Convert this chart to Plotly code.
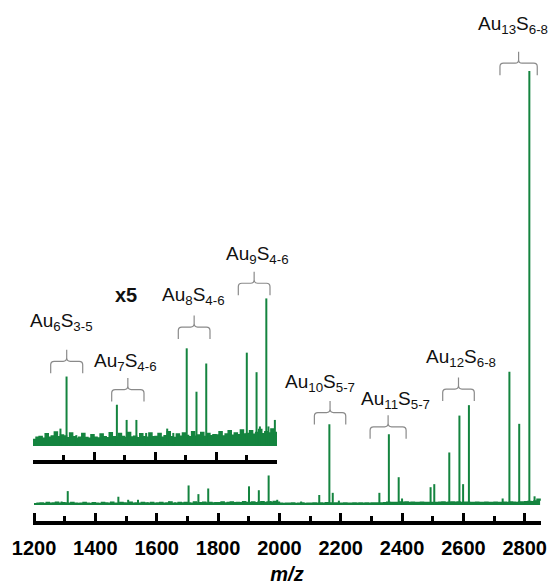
import plotly.graph_objects as go
import numpy as np

# ---------------- data ----------------
# stick peaks (m/z, intensity in % of the Au13S8 peak)
peak_mz = [1290, 1310, 1342, 1475, 1507, 1539, 1571, 1640, 1660, 1704, 1736, 1768,
           1901, 1933, 1944, 1965, 1972, 1993,
           2071, 2130, 2163, 2174, 2194, 2326, 2357, 2389, 2400,
           2493, 2505, 2554, 2587, 2599, 2618, 2728, 2750, 2782, 2815, 2832]
peak_int = [0.8, 3.2, 0.5, 1.9, 1.2, 1.2, 0.6, 0.8, 0.6, 4.5, 2.5, 3.8,
            4.3, 3.4, 0.9, 6.8, 0.9, 1.2,
            0.8, 2.3, 18.6, 2.8, 1.0, 2.8, 16.3, 6.4, 1.5,
            4.1, 4.8, 12.1, 20.6, 4.8, 23.0, 1.5, 30.7, 18.7, 100.0, 2.0]

# baseline noise sampled every 10 m/z from 1200 to 2850
noise_start = 1200
noise_step = 10
noise_int = [
    0.30, 0.40, 0.44, 0.36, 0.56, 0.40, 0.46, 0.64, 0.42, 0.50,
    0.46, 0.38, 0.60, 0.42, 0.36, 0.40, 0.58, 0.39, 0.35, 0.52,
    0.40, 0.37, 0.55, 0.43, 0.38, 0.61, 0.42, 0.40, 0.57, 0.44,
    0.39, 0.62, 0.41, 0.45, 0.38, 0.56, 0.43, 0.40, 0.60, 0.42,
    0.44, 0.58, 0.40, 0.47, 0.66, 0.42, 0.39, 0.55, 0.45, 0.60,
    0.48, 0.42, 0.66, 0.45, 0.50, 0.62, 0.44, 0.58, 0.47, 0.52,
    0.50, 0.66, 0.46, 0.55, 0.70, 0.49, 0.60, 0.52, 0.74, 0.55,
    0.58, 0.70, 0.54, 0.62, 0.76, 0.56, 0.66, 0.60, 0.78, 0.62,
    0.42, 0.36, 0.42, 0.38, 0.45, 0.36, 0.40, 0.48, 0.37, 0.42,
    0.40, 0.44, 0.38, 0.46, 0.42, 0.50, 0.44, 0.40, 0.45, 0.42,
    0.40, 0.46, 0.42, 0.38, 0.44, 0.40, 0.47, 0.42, 0.45, 0.41,
    0.44, 0.48, 0.43, 0.46, 0.50, 0.62, 0.58, 0.55, 0.60, 0.66,
    0.62, 0.70, 0.58, 0.64, 0.60, 0.56, 0.62, 0.58, 0.60, 0.55,
    0.60, 0.58, 0.62, 0.66, 0.60, 0.64, 0.70, 0.62, 0.66, 0.60,
    0.64, 0.62, 0.58, 0.60, 0.64, 0.56, 0.60, 0.62, 0.58, 0.60,
    0.62, 0.58, 0.60, 0.64, 0.60, 0.66, 0.62, 0.60, 0.70, 0.66,
    0.72, 0.80, 0.76, 0.90, 1.30, 0.95,
]

inset_gain = 5
inset_min_mz = 1200
inset_max_mz = 2000

# cluster labels: (text, axis, label x, label y, brace left, brace right, brace y)
clusters = [
    ("Au<sub>6</sub>S<sub>3-5</sub>", "inset", 1292, 28.6, 1258.0, 1363.0, 19.5),
    ("Au<sub>7</sub>S<sub>4-6</sub>", "inset", 1502, 19.4, 1458.0, 1563.9, 13.0),
    ("Au<sub>8</sub>S<sub>4-6</sub>", "inset", 1726, 34.6, 1676.4, 1780.3, 27.4),
    ("Au<sub>9</sub>S<sub>4-6</sub>", "inset", 1936, 44.0, 1873.1, 1977.0, 37.5),
    ("Au<sub>10</sub>S<sub>5-7</sub>", "main", 2132, 28.1, 2114.1, 2216.4, 21.3),
    ("Au<sub>11</sub>S<sub>5-7</sub>", "main", 2377, 24.2, 2295.8, 2413.2, 18.0),
    ("Au<sub>12</sub>S<sub>6-8</sub>", "main", 2592, 33.9, 2532.5, 2635.5, 26.7),
    ("Au<sub>13</sub>S<sub>6-8</sub>", "main", 2762, 110.6, 2719.2, 2840.8, 101.8),
]
gain_label = ("<b>x5</b>", 1505, 34.8)

tick_start = 1200
tick_major = 200
tick_minor = 100

# ---------------- layout constants ----------------
W, H = 549, 585
ML, MR, MT, MB = 33, 8, 10, 64
plot_w = W - ML - MR
plot_h = H - MT - MB
x_range = [1196.7, 2853.0]
y_range = [-3.69, 114.05]
inset_dom = [0.1194, 0.6282]
y2_range = [-3.23, 56.68]
x2_dom = [0.0, 244 / plot_w]

GREEN = "#14843f"
FONT = "Liberation Sans, Arial, sans-serif"

# pixel scales (for brace geometry)
sx_main = plot_w / (x_range[1] - x_range[0])
sx_inset = plot_w * (x2_dom[1] - x2_dom[0]) / (inset_max_mz - inset_min_mz)
sy_main = plot_h / (y_range[1] - y_range[0])
sy_inset = plot_h * (inset_dom[1] - inset_dom[0]) / (y2_range[1] - y2_range[0])

noise_mz = noise_start + noise_step * np.arange(len(noise_int))
noise_arr = np.array(noise_int)


def sticks(mz, h, gain=1.0, xmax=None):
    xs, ys = [], []
    for m, v in zip(mz, h):
        if xmax is not None and m > xmax:
            continue
        xs += [m, m, None]
        ys += [0, v * gain, None]
    return xs, ys


fig = go.Figure()

# main spectrum
fig.add_trace(go.Scatter(x=noise_mz, y=noise_arr, mode="lines", fill="tozeroy", line_shape="hv",
                         fillcolor=GREEN, line=dict(color=GREEN, width=1.5),
                         xaxis="x", yaxis="y", hoverinfo="skip", showlegend=False))
sx, sy = sticks(peak_mz, peak_int)
fig.add_trace(go.Scatter(x=sx, y=sy, mode="lines", line=dict(color=GREEN, width=2),
                         xaxis="x", yaxis="y", showlegend=False))

# inset (x5)
sel = noise_mz <= inset_max_mz
fig.add_trace(go.Scatter(x=noise_mz[sel], y=noise_arr[sel] * inset_gain, mode="lines",
                         fill="tozeroy", fillcolor=GREEN, line_shape="hv",
                         line=dict(color=GREEN, width=1.5),
                         xaxis="x2", yaxis="y2", hoverinfo="skip", showlegend=False))
ix, iy = sticks(peak_mz, peak_int, inset_gain, inset_max_mz)
fig.add_trace(go.Scatter(x=ix, y=iy, mode="lines", line=dict(color=GREEN, width=2),
                         xaxis="x2", yaxis="y2", showlegend=False))


def fmt(v):
    return f"{v:.3f}"


def brace_path(xl, xr, yb, sxp, syp):
    r, hook, nub = 3.5, 12.0, 11.5
    rx, ry, hy, ny = r / sxp, r / syp, hook / syp, nub / syp
    xc = (xl + xr) / 2
    pts = [
        ("M", xl, yb - hy), ("L", xl, yb - ry), ("Q", xl, yb, xl + rx, yb),
        ("L", xc - rx, yb), ("Q", xc, yb, xc, yb + ry), ("L", xc, yb + ny),
        ("M", xc, yb + ry), ("Q", xc, yb, xc + rx, yb), ("L", xr - rx, yb),
        ("Q", xr, yb, xr, yb - ry), ("L", xr, yb - hy),
    ]
    out = []
    for p in pts:
        cmd, vals = p[0], p[1:]
        coords = " ".join(f"{fmt(vals[i])},{fmt(vals[i + 1])}" for i in range(0, len(vals), 2))
        out.append(cmd + coords)
    return " ".join(out)


shapes = []
annotations = []
for text, axis, lx, ly, bl, br, by in clusters:
    if axis == "inset":
        xref, yref, sxp, syp = "x2", "y2", sx_inset, sy_inset
    else:
        xref, yref, sxp, syp = "x", "y", sx_main, sy_main
    shapes.append(dict(type="path", xref=xref, yref=yref, path=brace_path(bl, br, by, sxp, syp),
                       line=dict(color="#8a8a8a", width=1.2)))
    annotations.append(dict(text=text, x=lx, y=ly, xref=xref, yref=yref, showarrow=False,
                            xanchor="center", yanchor="middle",
                            font=dict(family=FONT, size=19, color="#111111")))
annotations.append(dict(text=gain_label[0], x=gain_label[1], y=gain_label[2], xref="x2", yref="y2",
                        showarrow=False, xanchor="center", yanchor="middle",
                        font=dict(family=FONT, size=20, color="#111111")))

axis_common = dict(
    showline=True, linewidth=4, linecolor="#000000", showgrid=False, zeroline=False,
    ticks="inside", ticklen=8, tickwidth=3, tickcolor="#000000",
    tick0=tick_start, dtick=tick_major, automargin=False,
    minor=dict(ticks="inside", ticklen=5, tickwidth=3, tickcolor="#000000",
               tick0=tick_start, dtick=tick_minor),
)

fig.update_layout(
    width=W, height=H, margin=dict(l=ML, r=MR, t=MT, b=MB, autoexpand=False),
    paper_bgcolor="white", plot_bgcolor="white", showlegend=False,
    xaxis=dict(range=x_range, domain=[0, 1], anchor="y",
               tickfont=dict(family=FONT, size=20, color="#000000", weight="bold"),
               ticklabelstandoff=6,
               title=dict(text="<b><i>m/z</i></b>", standoff=17,
                          font=dict(family=FONT, size=20, color="#000000")),
               **axis_common),
    yaxis=dict(range=y_range, domain=[0, 1], visible=False, anchor="x"),
    xaxis2=dict(range=[inset_min_mz, inset_max_mz], domain=x2_dom, anchor="y2",
                showticklabels=False, **axis_common),
    yaxis2=dict(range=y2_range, domain=inset_dom, visible=False, anchor="x2"),
    shapes=shapes, annotations=annotations,
)

fig.write_html("out.html")
